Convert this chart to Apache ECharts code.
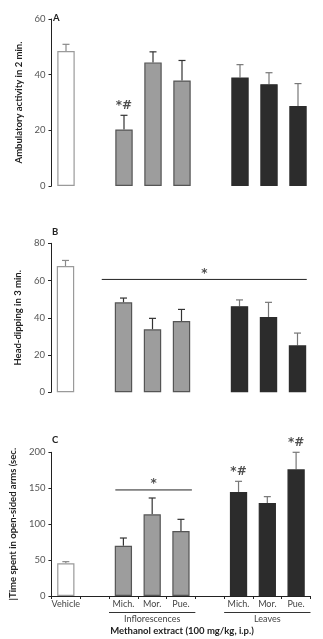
<!DOCTYPE html>
<html>
<head>
<meta charset="utf-8">
<script src="https://cdn.jsdelivr.net/npm/echarts@6/dist/echarts.min.js"></script>
<style>
  html, body { margin: 0; padding: 0; background: #fff; }
  #chart { width: 323px; height: 639px; }
</style>
</head>
<body>
<div id="chart"></div>
<script>
// categories: vehicle, gap, inflorescences x3, gap, leaves x3
const categories = ['Vehicle', '', 'Mich.', 'Mor.', 'Pue.', '', 'Mich.', 'Mor.', 'Pue.']
const groupType = ['veh', null, 'inf', 'inf', 'inf', null, 'leaf', 'leaf', 'leaf']

// panel A - ambulatory activity
const ambMean = [48.5, null, 20.3, 44.4, 37.9, null, 39.0, 36.6, 28.7]
const ambErr = [50.9, null, 25.4, 48.2, 45.1, null, 43.6, 40.7, 36.8]
// panel B - head dipping
const headMean = [67.8, null, 48.3, 33.8, 38.3, null, 46.2, 40.4, 25.2]
const headErr = [70.8, null, 50.6, 39.7, 44.5, null, 49.6, 48.3, 31.8]
// panel C - open arms time
const openMean = [45.5, null, 70.0, 113.7, 90.5, null, 144.8, 129.5, 176.3]
const openErr = [47.8, null, 80.7, 136.4, 106.7, null, 159.6, 138.3, 200.0]

const ambMarks = [[2, '*#']]
const openMarks = [[6, '*#'], [8, '*#']]
// significance bars: [fromX, toX, y] on a 0..9 slot scale
const headSig = [1.75, 8.82, 60.6]
const openSig = [2.22, 4.88, 147.6]

const FONT = 'Lato'
const fill = { veh: '#ffffff', inf: '#9d9d9d', leaf: '#2c2c2c' }
const border = { veh: '#9a9a9a', inf: '#555555', leaf: '#2c2c2c' }
const whisker = { veh: '#8a8a8a', inf: '#333333', leaf: '#777777' }

const grids = [
  { left: 51.5, width: 261, top: 19, height: 167 },
  { left: 51, width: 261, top: 243.3, height: 149 },
  { left: 49.5, width: 261, top: 452.3, height: 143.7 }
]

const barData = means => means.map((v, i) => v == null ? null : {
  value: v,
  itemStyle: { color: fill[groupType[i]], borderColor: border[groupType[i]], borderWidth: 1.2 }
})

const errData = (means, errs) => means.map((v, i) => v == null ? null : [i, v, errs[i]]).filter(d => d)

const errSeries = (idx, means, errs) => ({
  type: 'custom',
  xAxisIndex: idx,
  yAxisIndex: idx,
  data: errData(means, errs),
  z: 1,
  renderItem: (params, api) => {
    const i = api.value(0)
    const base = api.coord([i, api.value(1)])
    const top = api.coord([i, api.value(2)])
    const col = whisker[groupType[i]]
    const cap = 3.5
    return {
      type: 'group',
      children: [
        { type: 'line', shape: { x1: base[0], y1: base[1], x2: top[0], y2: top[1] }, style: { stroke: col, lineWidth: 1.2 } },
        { type: 'line', shape: { x1: top[0] - cap, y1: top[1], x2: top[0] + cap, y2: top[1] }, style: { stroke: col, lineWidth: 1.2 } }
      ]
    }
  }
})

const markSeries = (idx, marks, errs) => ({
  type: 'scatter',
  xAxisIndex: idx + 3,
  yAxisIndex: idx,
  symbolSize: 0,
  clip: false,
  silent: true,
  data: marks.map(m => ({ value: [m[0] + 0.5, errs[m[0]]], label: { formatter: m[1] } })),
  label: { show: true, position: 'top', distance: 3, color: '#222', fontSize: 12, fontWeight: 'bold', fontFamily: 'DejaVu Sans' }
})

const sigSeries = (idx, sig) => ([
  {
    type: 'line',
    xAxisIndex: idx + 3,
    yAxisIndex: idx,
    symbol: 'none',
    silent: true,
    lineStyle: { color: '#222', width: 1 },
    data: [[sig[0], sig[2]], [sig[1], sig[2]]]
  },
  {
    type: 'scatter',
    xAxisIndex: idx + 3,
    yAxisIndex: idx,
    symbolSize: 0,
    silent: true,
    data: [{ value: [(sig[0] + sig[1]) / 2, sig[2]], label: { formatter: '*' } }],
    label: { show: true, position: 'top', distance: 0, color: '#222', fontSize: 12, fontWeight: 'bold', fontFamily: 'DejaVu Sans' }
  }
])

const yAxisBase = (idx, max, interval, name) => ({
  gridIndex: idx,
  type: 'value',
  min: 0,
  max: max,
  interval: interval,
  name: name,
  nameLocation: 'middle',
  nameGap: 27,
  nameTextStyle: { color: '#222', fontSize: 9.5, fontWeight: 'bold', fontFamily: FONT },
  axisLine: { show: true, lineStyle: { color: '#222', width: 1 } },
  axisTick: { show: true, length: 3, lineStyle: { color: '#222' } },
  axisLabel: { color: '#555', fontSize: 9.5, margin: 6, fontFamily: FONT },
  splitLine: { show: false }
})

const catAxis = (idx, showLine) => ({
  gridIndex: idx,
  type: 'category',
  data: categories,
  boundaryGap: true,
  axisLine: { show: showLine, lineStyle: { color: '#222', width: 1 } },
  axisTick: { show: showLine, length: 3, interval: 0, lineStyle: { color: '#222' } },
  axisLabel: { show: showLine, interval: 0, color: '#444', fontSize: 9, margin: 4, fontFamily: FONT }
})

const valAxis = idx => ({ gridIndex: idx, type: 'value', min: 0, max: 9, show: false })

const barSeries = (idx, means) => ({
  type: 'bar',
  xAxisIndex: idx,
  yAxisIndex: idx,
  barWidth: '60%',
  z: 2,
  data: barData(means)
})

const myChart = echarts.init(document.getElementById('chart'), null, { renderer: 'canvas' })

myChart.setOption({
  animation: false,
  backgroundColor: '#fff',
  grid: grids,
  title: [
    { text: 'A', left: 53, top: 13 },
    { text: 'B', left: 52, top: 227 },
    { text: 'C', left: 52, top: 435 }
  ].map(t => Object.assign(t, { padding: 0, textStyle: { fontSize: 9.5, fontWeight: 'bold', color: '#222', fontFamily: FONT } })),
  xAxis: [catAxis(0, false), catAxis(1, false), catAxis(2, true), valAxis(0), valAxis(1), valAxis(2)],
  yAxis: [
    yAxisBase(0, 60, 20, 'Ambulatory activity in 2 min.'),
    yAxisBase(1, 80, 20, 'Head-dipping in 3 min.'),
    yAxisBase(2, 200, 50, '|Time spent in open-sided arms (sec.')
  ],
  series: [
    barSeries(0, ambMean), errSeries(0, ambMean, ambErr), markSeries(0, ambMarks, ambErr),
    barSeries(1, headMean), errSeries(1, headMean, headErr), ...sigSeries(1, headSig),
    barSeries(2, openMean), errSeries(2, openMean, openErr), markSeries(2, openMarks, openErr), ...sigSeries(2, openSig)
  ]
})

// group labels under panel C
const px = v => myChart.convertToPixel({ xAxisIndex: 5 }, v)
const groups = [['Inflorescences', 2, 5], ['Leaves', 6, 9]]
const lineY = 612.5
const graphics = []
groups.forEach(g => {
  const x1 = px(g[1])
  const x2 = px(g[2])
  graphics.push({ type: 'line', shape: { x1: x1, y1: lineY, x2: x2, y2: lineY }, style: { stroke: '#333', lineWidth: 1 } })
  graphics.push({ type: 'text', x: (x1 + x2) / 2, y: lineY + 6.5, style: { text: g[0], fill: '#444', fontSize: 9, fontFamily: FONT, align: 'center', verticalAlign: 'middle' } })
})
graphics.push({ type: 'text', x: 182, y: 631, style: { text: 'Methanol extract (100 mg/kg, i.p.)', fill: '#222', fontSize: 9.5, fontWeight: 'bold', fontFamily: FONT, align: 'center', verticalAlign: 'middle' } })
myChart.setOption({ graphic: graphics })
</script>
</body>
</html>
